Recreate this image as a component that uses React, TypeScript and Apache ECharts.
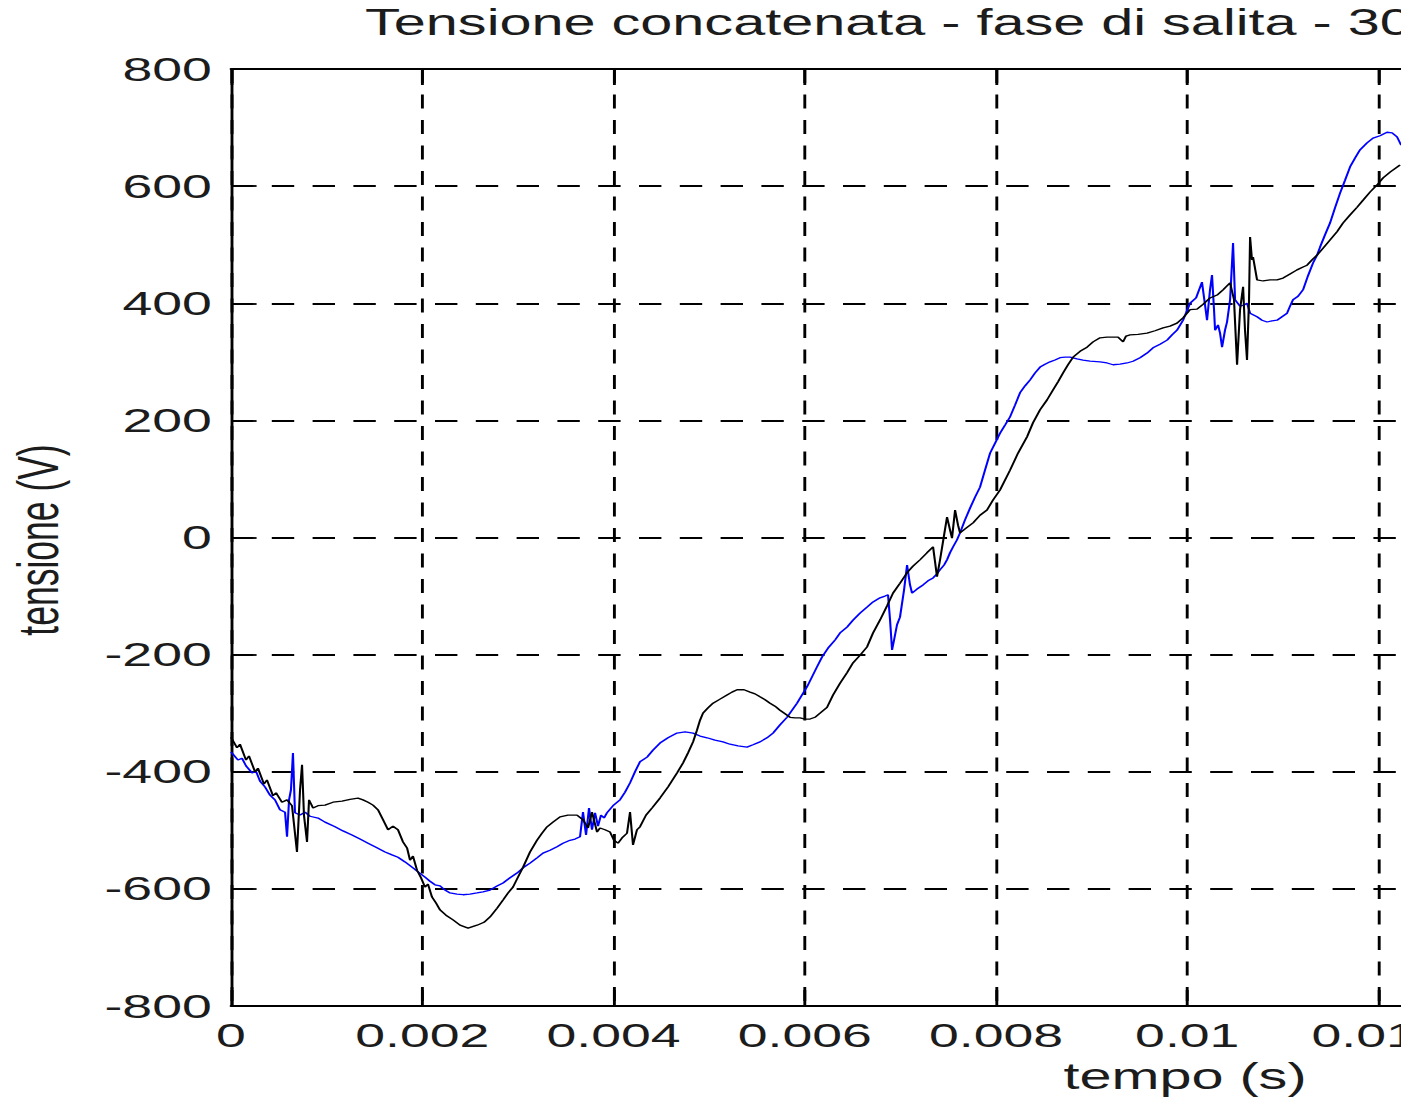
import React, { useEffect, useRef } from "react";
import * as echarts from "echarts";

// ---- data (time in ms, voltage in V) ----
const blueTrace: [number, number][] = [
  [0.0, -366], [0.073, -380], [0.115, -377], [0.157, -390], [0.22, -402], [0.261, -399], [0.303, -416], [0.356, -426], [0.408, -440], [0.46, -448],
  [0.512, -465], [0.565, -469], [0.586, -511], [0.607, -448], [0.627, -431], [0.648, -368], [0.669, -470], [0.722, -474], [0.774, -469], [0.826, -476],
  [0.91, -479], [0.983, -486], [1.088, -494], [1.171, -501], [1.265, -508], [1.349, -515], [1.433, -522], [1.516, -529], [1.611, -537], [1.684, -542],
  [1.746, -546], [1.82, -554], [1.893, -563], [1.956, -571], [2.029, -580], [2.081, -587], [2.133, -593], [2.186, -595], [2.238, -602], [2.29, -607],
  [2.363, -609], [2.426, -610], [2.499, -609], [2.573, -607], [2.635, -605], [2.709, -602], [2.782, -595], [2.845, -590], [2.918, -581], [2.991, -573],
  [3.054, -564], [3.127, -556], [3.2, -547], [3.263, -539], [3.336, -534], [3.409, -528], [3.472, -522], [3.545, -517], [3.598, -515], [3.65, -511],
  [3.681, -469], [3.713, -508], [3.744, -462], [3.775, -499], [3.807, -470], [3.838, -493], [3.869, -474], [3.901, -479], [3.932, -470], [3.995, -458],
  [4.068, -448], [4.12, -435], [4.173, -419], [4.225, -400], [4.277, -383], [4.351, -375], [4.413, -363], [4.486, -351], [4.57, -342], [4.664, -334],
  [4.748, -332], [4.832, -334], [4.905, -339], [4.978, -342], [5.061, -346], [5.145, -349], [5.218, -353], [5.302, -356], [5.396, -358], [5.459, -354],
  [5.532, -349], [5.605, -342], [5.668, -334], [5.741, -320], [5.815, -307], [5.867, -295], [5.919, -283], [5.971, -269], [6.024, -255], [6.076, -238],
  [6.128, -221], [6.181, -204], [6.243, -189], [6.317, -175], [6.369, -163], [6.442, -153], [6.505, -141], [6.578, -129], [6.651, -119], [6.714, -110],
  [6.787, -103], [6.839, -100], [6.871, -98], [6.892, -141], [6.913, -192], [6.934, -175], [6.965, -149], [6.996, -136], [7.038, -90], [7.07, -47],
  [7.101, -81], [7.122, -95], [7.174, -88], [7.237, -81], [7.289, -74], [7.342, -69], [7.383, -62], [7.415, -55], [7.457, -47], [7.488, -38],
  [7.519, -26], [7.551, -16], [7.592, -4], [7.624, 8], [7.676, 30], [7.728, 50], [7.781, 69], [7.833, 86], [7.885, 115], [7.938, 144],
  [7.99, 161], [8.042, 178], [8.095, 192], [8.147, 206], [8.199, 226], [8.251, 247], [8.304, 259], [8.356, 269], [8.408, 281], [8.461, 291],
  [8.513, 296], [8.565, 300], [8.617, 303], [8.67, 307], [8.722, 308], [8.774, 308], [8.847, 305], [8.91, 303], [8.983, 301], [9.088, 300],
  [9.161, 298], [9.224, 295], [9.297, 296], [9.37, 298], [9.433, 301], [9.506, 307], [9.58, 315], [9.642, 324], [9.715, 330], [9.789, 337],
  [9.841, 346], [9.893, 354], [9.956, 371], [10.029, 400], [10.092, 409], [10.154, 436], [10.186, 397], [10.207, 371], [10.238, 423], [10.259, 448],
  [10.28, 389], [10.291, 354], [10.322, 363], [10.343, 349], [10.364, 325], [10.395, 354], [10.416, 368], [10.448, 406], [10.479, 503], [10.5, 406],
  [10.552, 395], [10.594, 397], [10.625, 400], [10.657, 383], [10.73, 377], [10.782, 371], [10.834, 368], [10.887, 370], [10.939, 371], [10.991, 377],
  [11.044, 383], [11.075, 395], [11.106, 406], [11.159, 412], [11.211, 423], [11.263, 447], [11.316, 469], [11.357, 482], [11.389, 496], [11.441, 517],
  [11.493, 537], [11.545, 563], [11.598, 588], [11.65, 610], [11.703, 633], [11.755, 648], [11.807, 662], [11.88, 674], [11.943, 682], [12.016, 686],
  [12.089, 692], [12.142, 691], [12.194, 684], [12.236, 670],
];

const blackTrace: [number, number][] = [
  [0.0, -341], [0.063, -359], [0.094, -353], [0.157, -380], [0.188, -373], [0.251, -400], [0.282, -394], [0.345, -421], [0.376, -414], [0.439, -441],
  [0.471, -436], [0.533, -452], [0.586, -448], [0.638, -458], [0.69, -537], [0.722, -431], [0.743, -388], [0.763, -474], [0.795, -520], [0.816, -448],
  [0.858, -462], [0.91, -458], [0.983, -457], [1.067, -452], [1.161, -450], [1.245, -447], [1.328, -445], [1.38, -448], [1.433, -452], [1.485, -457],
  [1.537, -465], [1.59, -482], [1.642, -499], [1.694, -493], [1.746, -499], [1.799, -520], [1.841, -530], [1.872, -551], [1.903, -544], [1.945, -568],
  [1.987, -581], [2.029, -597], [2.06, -592], [2.102, -614], [2.144, -624], [2.186, -636], [2.248, -645], [2.322, -653], [2.395, -662], [2.479, -667],
  [2.573, -662], [2.646, -657], [2.709, -648], [2.782, -633], [2.845, -619], [2.897, -607], [2.949, -597], [3.001, -580], [3.054, -563], [3.127, -537],
  [3.2, -517], [3.252, -505], [3.305, -494], [3.367, -486], [3.441, -477], [3.524, -474], [3.618, -474], [3.681, -482], [3.734, -496], [3.775, -469],
  [3.828, -503], [3.859, -496], [3.911, -499], [3.964, -503], [4.005, -517], [4.047, -522], [4.089, -513], [4.141, -505], [4.173, -469], [4.204, -525],
  [4.246, -499], [4.277, -494], [4.34, -474], [4.403, -462], [4.486, -445], [4.57, -426], [4.664, -402], [4.727, -385], [4.779, -368], [4.832, -349],
  [4.873, -329], [4.905, -312], [4.936, -300], [4.988, -291], [5.041, -283], [5.114, -276], [5.187, -269], [5.239, -264], [5.292, -260], [5.365, -260],
  [5.428, -264], [5.48, -267], [5.532, -272], [5.585, -277], [5.637, -283], [5.689, -288], [5.741, -295], [5.794, -301], [5.846, -307], [5.898, -308],
  [5.951, -308], [6.003, -310], [6.055, -310], [6.107, -307], [6.16, -300], [6.233, -290], [6.296, -269], [6.369, -249], [6.442, -231], [6.505, -214],
  [6.578, -201], [6.651, -187], [6.714, -163], [6.787, -141], [6.86, -117], [6.923, -95], [6.996, -78], [7.07, -60], [7.132, -49], [7.206, -38],
  [7.279, -26], [7.342, -16], [7.383, -67], [7.415, -38], [7.457, 4], [7.488, 35], [7.519, 13], [7.54, -1], [7.572, 47], [7.603, 21],
  [7.624, 8], [7.687, 16], [7.76, 25], [7.833, 38], [7.906, 47], [7.969, 64], [8.042, 81], [8.147, 115], [8.23, 144], [8.325, 172],
  [8.387, 196], [8.461, 218], [8.534, 235], [8.596, 252], [8.649, 266], [8.701, 281], [8.753, 295], [8.806, 308], [8.879, 318], [8.952, 325],
  [9.015, 334], [9.088, 341], [9.161, 342], [9.224, 342], [9.276, 342], [9.329, 334], [9.36, 344], [9.402, 346], [9.485, 347], [9.58, 349],
  [9.663, 353], [9.747, 358], [9.82, 361], [9.893, 366], [9.956, 375], [10.029, 389], [10.102, 390], [10.165, 398], [10.238, 409], [10.312, 414],
  [10.374, 423], [10.448, 435], [10.489, 406], [10.521, 295], [10.552, 389], [10.584, 428], [10.604, 354], [10.625, 303], [10.646, 406], [10.657, 513],
  [10.677, 474], [10.688, 479], [10.73, 440], [10.793, 438], [10.866, 440], [10.939, 440], [11.002, 443], [11.075, 450], [11.148, 457], [11.211, 462],
  [11.253, 465], [11.305, 474], [11.357, 482], [11.42, 494], [11.493, 508], [11.566, 522], [11.629, 537], [11.703, 551], [11.776, 564], [11.839, 576],
  [11.912, 590], [11.985, 602], [12.048, 614], [12.121, 624], [12.225, 636],
];

const xMin = 0;
const xMax = 0.02;
const xStep = 0.002;
const yMin = -800;
const yMax = 800;
const yStep = 200;

const titleText = "Tensione concatenata - fase di salita - 30";
const xName = "tempo (s)";
const yName = "tensione (V)";

// ---- layout (the original picture is stretched horizontally) ----
const K = 1.6;
const FONT = "Liberation Sans";
const TEXT_COLOR = "#1c1c1c";

const fmtX = (v: number) => (Math.abs(v) < 1e-12 ? "0" : String(parseFloat(v.toFixed(6))));

export default function App() {
  const ref = useRef<HTMLDivElement>(null);

  useEffect(() => {
    if (!ref.current) return;
    const chart = echarts.init(ref.current, null, { renderer: "svg" });
    const lineAxis = { show: true, onZero: false, lineStyle: { color: "#000", width: 1.8 } };
    const tick = { show: true, inside: true, length: 16, lineStyle: { color: "#000", width: 1.8 } };
    const grid = { show: true, lineStyle: { color: "#000", width: 1.8, type: [14, 11.5] } };
    const label = { color: TEXT_COLOR, fontFamily: FONT, fontSize: 33.5 };

    chart.setOption({
      animation: false,
      backgroundColor: "#fff",
      grid: { left: 231 / K, top: 69, width: 1912.5 / K, height: 937, containLabel: false },
      xAxis: [
        {
          type: "value", min: xMin, max: xMax, interval: xStep, position: "bottom",
          axisLine: lineAxis, axisTick: tick, splitLine: grid,
          axisLabel: { ...label, margin: 12, formatter: fmtX, showMinLabel: true, showMaxLabel: true },
        },
        {
          type: "value", min: xMin, max: xMax, interval: xStep, position: "top",
          axisLine: lineAxis, axisTick: tick, splitLine: { show: false }, axisLabel: { show: false },
        },
      ],
      yAxis: [
        {
          type: "value", min: yMin, max: yMax, interval: yStep, position: "left",
          axisLine: lineAxis, axisTick: tick, splitLine: grid,
          axisLabel: { ...label, margin: 12, showMinLabel: true, showMaxLabel: true },
        },
        {
          type: "value", min: yMin, max: yMax, interval: yStep, position: "right",
          axisLine: lineAxis, axisTick: tick, splitLine: { show: false }, axisLabel: { show: false },
        },
      ],
      series: [
        {
          type: "line", xAxisIndex: 0, yAxisIndex: 0, showSymbol: false, symbol: "none",
          lineStyle: { color: "#0000ff", width: 1.3 },
          data: blueTrace.map(([ms, v]) => [ms / 1000, v]),
        },
        {
          type: "line", xAxisIndex: 0, yAxisIndex: 0, showSymbol: false, symbol: "none",
          lineStyle: { color: "#000000", width: 1.3 },
          data: blackTrace.map(([ms, v]) => [ms / 1000, v]),
        },
      ],
      graphic: [
        {
          type: "text", x: 365 / K, y: 23,
          style: { text: titleText, fontFamily: FONT, fontSize: 36, fill: TEXT_COLOR, align: "left", verticalAlign: "middle" },
        },
        {
          type: "text", x: 1185 / K, y: 1077,
          style: { text: xName, fontFamily: FONT, fontSize: 36, fill: TEXT_COLOR, align: "center", verticalAlign: "middle" },
        },
        {
          type: "text", x: 38 / K, y: 540, rotation: Math.PI / 2,
          style: { text: yName, fontFamily: FONT, fontSize: 35.5, fill: TEXT_COLOR, align: "center", verticalAlign: "middle" },
        },
      ],
    });
    return () => chart.dispose();
  }, []);

  return (
    <div style={{ position: "fixed", left: 0, top: 0, width: 1401, height: 1099, overflow: "hidden", background: "#fff" }}>
      <div
        ref={ref}
        style={{ width: 1420, height: 1099, transform: `scaleX(${K})`, transformOrigin: "0 0" }}
      />
    </div>
  );
}
